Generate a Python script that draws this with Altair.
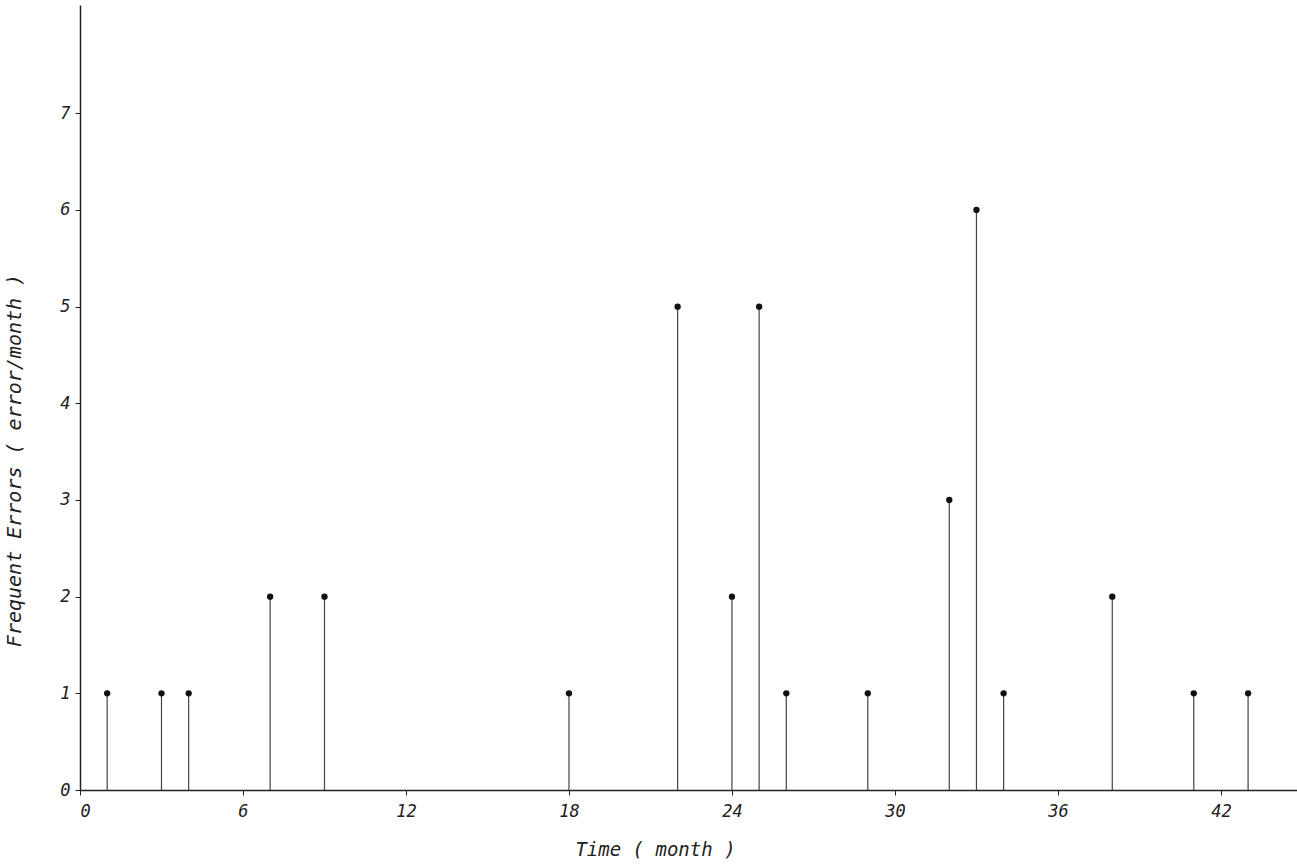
import altair as alt
import pandas as pd

months = [1, 3, 4, 7, 9, 18, 22, 24, 25, 26, 29, 32, 33, 34, 38, 41, 43]
errors = [1, 1, 1, 2, 2, 1, 5, 2, 5, 1, 1, 3, 6, 1, 2, 1, 1]
x_ticks = [0, 6, 12, 18, 24, 30, 36, 42]
y_ticks = [0, 1, 2, 3, 4, 5, 6, 7]

df = pd.DataFrame({"month": months, "errors": errors, "base": [0] * len(months)})

FONT = "DejaVu Sans Mono"

x_enc = alt.X(
    "month:Q",
    scale=alt.Scale(domain=[0, 44.8], nice=False, zero=True),
    axis=alt.Axis(
        values=x_ticks, title="Time ( month )", grid=False, format="d",
        domainColor="#222", domainWidth=1.5, tickColor="#222", tickSize=5,
        labelFont=FONT, labelFontStyle="italic", labelFontSize=17, labelColor="#222",
        labelPadding=8,
        titleFont=FONT, titleFontStyle="italic", titleFontSize=19, titleFontWeight="normal",
        titleColor="#222", titleX=575, titleY=50, titleAnchor="middle",
    ),
)
y_enc = alt.Y(
    "errors:Q",
    scale=alt.Scale(domain=[0, 8.12], nice=False, zero=True),
    axis=alt.Axis(
        values=y_ticks, title="Frequent Errors ( error/month )", grid=False, format="d",
        domainColor="#222", domainWidth=1.5, tickColor="#222", tickSize=5,
        labelFont=FONT, labelFontStyle="italic", labelFontSize=17, labelColor="#222",
        labelPadding=5,
        titleFont=FONT, titleFontStyle="italic", titleFontSize=20, titleFontWeight="normal",
        titleColor="#222", titleX=-56, titleY=455, titleAngle=-90,
    ),
)

stems = alt.Chart(df).mark_rule(color="#444", strokeWidth=1.2).encode(
    x=x_enc, y=y_enc, y2="base:Q"
)
dots = alt.Chart(df).mark_circle(color="#111", size=40, opacity=1).encode(
    x="month:Q", y="errors:Q"
)

chart = (
    alt.layer(stems, dots)
    .properties(
        width=1217, height=785,
        autosize=alt.AutoSizeParams(type="none"),
        padding={"left": 80, "top": 5, "right": 0, "bottom": 76},
        background="white",
    )
    .configure_view(stroke=None)
)

chart.save("out.html", embed_options={"renderer": "svg", "actions": False})
